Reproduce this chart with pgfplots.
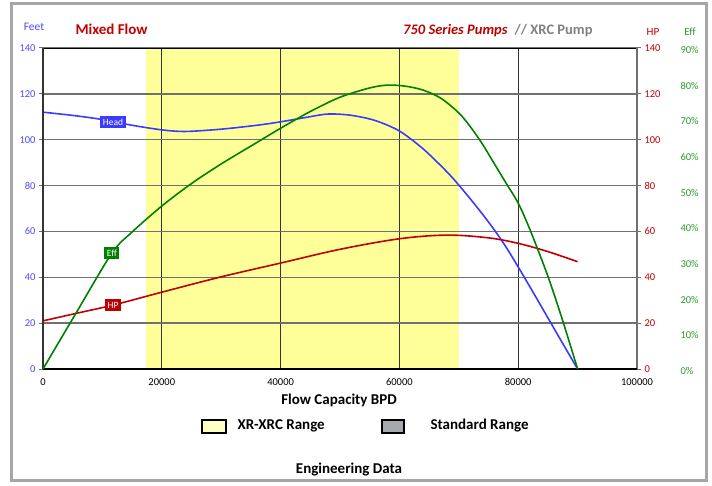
\documentclass[border=0pt]{standalone}
\usepackage{pgfplots}
\pgfplotsset{compat=1.18}
\usepackage{fontspec}
\setmainfont{Carlito}
\definecolor{headblue}{HTML}{3B3BFF}
\definecolor{ticblue}{HTML}{4B4BFF}
\definecolor{hpred}{HTML}{C00000}
\definecolor{effgreen}{HTML}{008000}
\definecolor{effgreenlbl}{HTML}{2E9A2E}
\definecolor{bandyellow}{HTML}{FFFF99}
\definecolor{gridgray}{HTML}{707070}
\definecolor{framegray}{HTML}{A6A6A6}
\definecolor{stdgray}{HTML}{A6A9AD}

\pgfplotsset{
  chart/.style={
    at={(0,0)}, anchor=south west,
    scale only axis, width=594pt, height=321pt,
    xmin=0, xmax=100000,
    /pgf/number format/assume math mode=true,
    tick label style={font=\fontsize{10.5}{12}\selectfont},
  },
}

\begin{document}
\begin{tikzpicture}
% page size = reference pixels
\path (-43pt,-116pt) rectangle (669pt,369pt);
\draw[framegray, line width=3pt] (-31pt,365pt) rectangle (663pt,-111pt);

% Feet axis: band, grid, Head curve
\begin{axis}[chart,
  set layers=standard,
  ymin=0, ymax=140,
  xtick={0,20000,40000,60000,80000,100000},
  xticklabels={0,20000,40000,60000,80000,100000},
  scaled x ticks=false,
  ytick={0,20,...,140},
  yticklabel style={text=ticblue},
  xticklabel style={yshift=-2pt},
  ytick pos=left, xtick pos=bottom,
  tick align=outside, major tick length=4pt,
  xtick style={draw=none},
  ytick style={gridgray, line width=1pt},
  grid=major,
  x grid style={black!80, line width=1pt},
  y grid style={gridgray, line width=1.3pt},
  axis line style={draw=none},
  clip=false,
]
\addplot[fill=bandyellow, draw=none, on layer=axis background]
  coordinates {(17300,140) (70000,140)} \closedcycle;
\addplot[headblue, line width=1.6pt, smooth, tension=0.5] coordinates {
  (0,112) (5000,110.6) (10000,108.8) (15000,106.3) (20000,104.3)
  (24000,103.6) (30000,104.6) (36000,106.3) (40000,107.8) (44000,109.6)
  (48000,111.2) (52000,110.6) (56000,108.3) (60000,103.8) (64000,96)
  (68000,86) (70000,80.2) (72000,74) (74000,67.5) (76000,60.6)
  (78000,53) (80000,44.5) (82500,33.5) (85000,22.3) (87500,11.1) (90000,0)
};
\draw[black, line width=0.8pt] (rel axis cs:0,1) -- (rel axis cs:1,1);
\draw[gridgray, line width=1.3pt] (rel axis cs:1,0) -- (rel axis cs:1,1);
\draw[black!80, line width=1.3pt] (rel axis cs:0,0) -- (rel axis cs:0,1);
\draw[black, line width=2.2pt] (rel axis cs:0,0) -- (rel axis cs:1,0);
\node[fill=headblue, text=white, inner sep=2.5pt, font=\fontsize{9.5}{11}\selectfont]
  at (axis cs:11800,107.7) {Head};
\end{axis}

% HP axis
\begin{axis}[chart,
  ymin=0, ymax=140,
  axis x line=none, axis y line*=right,
  axis line style={draw=none},
  ytick={0,20,...,140},
  yticklabel style={text=hpred},
  tick align=outside, major tick length=4pt,
  ytick style={gridgray, line width=1pt},
  clip=false,
]
\addplot[hpred, line width=1.6pt, smooth, tension=0.55] coordinates {
  (0,21) (6000,24.5) (12000,28) (20000,33.5) (30000,40.2) (40000,46.2)
  (50000,52.2) (60000,56.8) (68000,58.4) (75000,57.2) (80000,54.8)
  (85000,51.2) (90000,46.8)
};
\node[fill=hpred, text=white, inner sep=2.5pt, font=\fontsize{9.5}{11}\selectfont]
  at (axis cs:11800,27.9) {HP};
\end{axis}

% Eff axis
\begin{axis}[chart,
  ymin=0, ymax=90,
  axis x line=none, axis y line*=right,
  axis line style={draw=none},
  ytick={0,10,...,90},
  yticklabels={0\%,10\%,20\%,30\%,40\%,50\%,60\%,70\%,80\%,90\%},
  yticklabel style={text=effgreenlbl, xshift=40pt, yshift=-2pt},
  major tick length=0pt,
  clip=false,
]
\addplot[effgreen, line width=1.6pt, smooth, tension=0.5] coordinates {
  (0,0) (5500,15.5) (11600,32.5) (15000,38.4) (20000,45.7) (25000,52)
  (30000,57.5) (35000,62.5) (40000,67.5) (45000,72.2) (50000,76.2)
  (55000,78.8) (58000,79.6) (61000,79.3) (64000,78.2) (67000,75.9)
  (70000,71.8) (72000,67.8) (74000,63) (76000,57.5)
  (78000,52) (80000,46.5) (82000,39) (85000,26) (87500,13.5) (90000,0)
};
\node[fill=effgreen, text=white, inner sep=2.5pt, font=\fontsize{9.5}{11}\selectfont]
  at (axis cs:11600,32.5) {Eff};
\end{axis}

% header texts
\node[text=ticblue, font=\fontsize{11.5}{13}\selectfont] at (-9pt,342pt) {Feet};
\node[text=hpred, anchor=west, font=\fontsize{15}{17}\selectfont\bfseries] at (29pt,340pt) {Mixed Flow};
\node[anchor=west, inner sep=0pt, font=\fontsize{14.5}{16}\selectfont\bfseries] at (360pt,338pt)
  {\textcolor{hpred}{\itshape 750 Series Pumps}\enspace\textcolor{gray}{//\ XRC Pump}};
\node[text=hpred, font=\fontsize{11}{13}\selectfont] at (610pt,337pt) {HP};
\node[text=effgreenlbl, font=\fontsize{11}{13}\selectfont] at (647pt,337pt) {Eff};

% below the axis
\node[font=\fontsize{15}{17}\selectfont\bfseries] at (296pt,-31pt) {Flow Capacity BPD};
\draw[black, line width=1.6pt, fill=bandyellow!60!white] (159pt,-64pt) rectangle (183pt,-51pt);
\node[anchor=west, font=\fontsize{15}{17}\selectfont\bfseries] at (191pt,-57pt) {XR-XRC Range};
\draw[black, line width=1.6pt, fill=stdgray] (339pt,-64pt) rectangle (361pt,-51pt);
\node[anchor=west, font=\fontsize{15}{17}\selectfont\bfseries] at (384pt,-57pt) {Standard Range};
\node[font=\fontsize{15}{17}\selectfont\bfseries] at (306pt,-101pt) {Engineering Data};
\end{tikzpicture}
\end{document}
